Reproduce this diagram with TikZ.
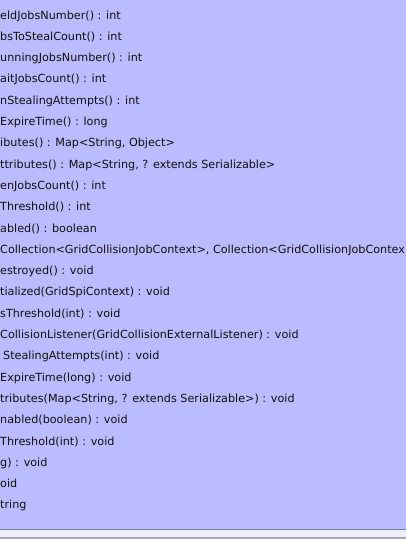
\documentclass[tikz,border=0pt]{standalone}
\usepackage{fontspec}
\setmainfont{DejaVu Sans}
\definecolor{classfill}{HTML}{BBBBFF}
\definecolor{classedge}{HTML}{7A7A9A}
\definecolor{footfill}{HTML}{EEEEFF}
\definecolor{footedge}{HTML}{AAAAAA}
\definecolor{methodtext}{HTML}{111111}
\begin{document}
\begin{tikzpicture}[x=1pt, y=-1pt, every node/.style={anchor=base west,inner sep=0pt,text=methodtext,font=\fontsize{11.2}{13}\selectfont}]
    \useasboundingbox (0,0) rectangle (406,539);
    \clip (0,0) rectangle (406,539);

    %––––– class box –––––
    \fill[classfill] (0,0) rectangle (406,529);
    \fill[footfill] (0,529) rectangle (406,537);
    \draw[classedge, line width=1pt] (0,529.5) -- (406,529.5);
    \draw[footedge, line width=1.5pt] (0,538) -- (406,538);

    %––––– getters –––––
    \node (m1) at (0,19) {eldJobsNumber() : int};
    \node (m2) at (0,40.3) {bsToStealCount() : int};
    \node (m3) at (0,61.6) {unningJobsNumber() : int};
    \node (m4) at (0,82.9) {aitJobsCount() : int};
    \node (m5) at (0,104.2) {nStealingAttempts() : int};
    \node (m6) at (0,125.5) {ExpireTime() : long};
    \node (m7) at (0,146.8) {ibutes() : Map<String, Object>};
    \node (m8) at (0,168.1) {ttributes() : Map<String, ? extends Serializable>};
    \node (m9) at (0,189.4) {enJobsCount() : int};
    \node (m10) at (0,210.7) {Threshold() : int};
    \node (m11) at (0,232) {abled() : boolean};

    %––––– callbacks –––––
    \node (m12) at (0,253.3) {Collection<GridCollisionJobContext>, Collection<GridCollisionJobContex};
    \node (m13) at (0,274.6) {estroyed() : void};
    \node (m14) at (0,295.9) {tialized(GridSpiContext) : void};

    %––––– setters –––––
    \node (m15) at (0,317.2) {sThreshold(int) : void};
    \node (m16) at (0,338.5) {CollisionListener(GridCollisionExternalListener) : void};
    \node (m17) at (3,359.8) {StealingAttempts(int) : void};
    \node (m18) at (0,381.1) {ExpireTime(long) : void};
    \node (m19) at (0,402.4) {tributes(Map<String, ? extends Serializable>) : void};
    \node (m20) at (0,423.7) {nabled(boolean) : void};
    \node (m21) at (0,445) {Threshold(int) : void};
    \node (m22) at (0,466.3) {g) : void};
    \node (m23) at (0,487.6) {oid};
    \node (m24) at (0,508.9) {tring};
  \end{tikzpicture}
\end{document}
